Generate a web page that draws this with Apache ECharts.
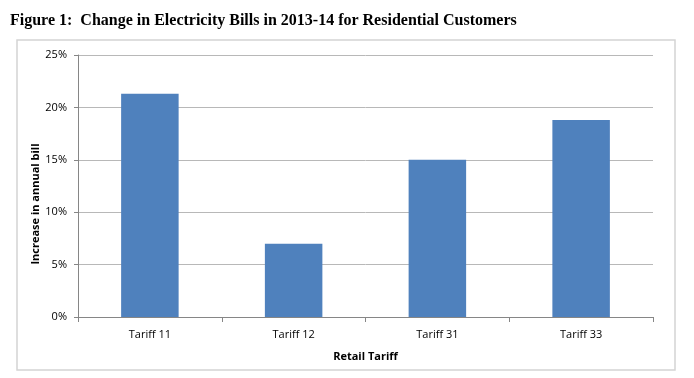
<!DOCTYPE html>
<html><head><meta charset="utf-8">
<script src="https://cdn.jsdelivr.net/npm/echarts@6/dist/echarts.min.js"></script>
<style>html,body{margin:0;padding:0;background:#fff}#c{width:694px;height:378px}</style>
</head><body><div id="c"></div>
<script>
const categories = ['Tariff 11', 'Tariff 12', 'Tariff 31', 'Tariff 33'];
const increases = [21.3, 7.0, 15.0, 18.8];
const yTicks = [0, 5, 10, 15, 20, 25];
const chart = echarts.init(document.getElementById('c'));
chart.setOption({
  animation: false,
  title: {
    text: 'Figure 1:  Change in Electricity Bills in 2013-14 for Residential Customers',
    left: 5, top: 8,
    textStyle: {fontFamily: 'Liberation Serif', fontWeight: 'bold', fontSize: 16, color: '#000'}
  },
  graphic: [{
    type: 'rect', shape: {x: 17, y: 40, width: 658, height: 330},
    style: {fill: 'none', stroke: '#d4d4d4', lineWidth: 1.5}, silent: true, z: -1
  }],
  grid: {left: 78, right: 41, top: 55, bottom: 61},
  xAxis: {
    type: 'category', data: categories,
    name: 'Retail Tariff', nameLocation: 'middle', nameGap: 34,
    nameTextStyle: {fontFamily: 'Open Sans', fontWeight: 'bold', fontSize: 11, color: '#000'},
    axisLine: {lineStyle: {color: '#868686', width: 1}},
    axisTick: {show: true, length: 5, lineStyle: {color: '#868686'}},
    axisLabel: {fontFamily: 'Open Sans', fontSize: 11, color: '#000', margin: 12}
  },
  yAxis: {
    type: 'value', min: yTicks[0], max: yTicks[yTicks.length - 1], interval: 5,
    name: 'Increase in annual bill', nameLocation: 'middle', nameGap: 37, nameMoveOverlap: false,
    nameTextStyle: {fontFamily: 'Open Sans', fontWeight: 'bold', fontSize: 11, color: '#000', padding: [0, 36, 0, 0]},
    axisLine: {show: true, lineStyle: {color: '#868686', width: 1}},
    axisTick: {show: true, length: 4, lineStyle: {color: '#868686'}},
    axisLabel: {fontFamily: 'Open Sans', fontSize: 11, color: '#000', margin: 11, formatter: v => v + '%'},
    splitLine: {lineStyle: {color: '#b8b8b8', width: 1}}
  },
  series: [{
    type: 'bar', data: increases, barWidth: '40%',
    itemStyle: {color: '#4f81bd'}
  }]
});
</script></body></html>
